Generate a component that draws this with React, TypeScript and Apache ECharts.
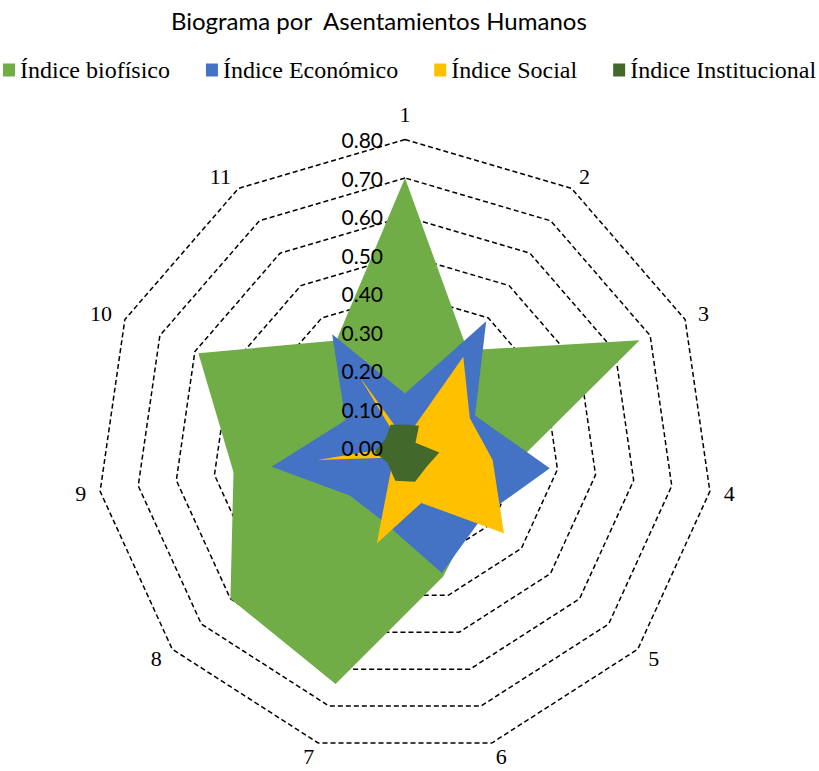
import React, { useEffect, useRef } from "react";
import * as echarts from "echarts";

const categories = ["1", "2", "3", "4", "5", "6", "7", "8", "9", "10", "11"];
const biofisico = [0.7, 0.3, 0.67, 0.29, 0.25, 0.35, 0.64, 0.6, 0.45, 0.59, 0.33];
const economico = [0.14, 0.39, 0.2, 0.38, 0.27, 0.34, 0.2, 0.19, 0.35, 0.17, 0.35];
const social = [0.02, 0.28, 0.185, 0.23, 0.34, 0.15, 0.26, 0.04, 0.23, 0.01, 0.22];
const institucional = [0.06, 0.067, 0.03, 0.09, 0.075, 0.093, 0.09, 0.06, 0.08, 0.055, 0.07];
const seriesNames = ["Índice biofísico", "Índice Económico", "Índice Social", "Índice Institucional"];
const colors = ["#70AD47", "#4472C4", "#FFC000", "#43682B"];
const axisMax = 0.8;

export default function App() {
  const ref = useRef<HTMLDivElement>(null);
  useEffect(() => {
    document.body.style.margin = "0";
    if (!ref.current) return;
    const chart = echarts.init(ref.current, undefined, { renderer: "svg" });
    // ECharts lays radar indicators counter-clockwise; reorder so they run clockwise.
    const order = [0, ...Array.from({ length: categories.length - 1 }, (_, k) => categories.length - 1 - k)];
    const baseIndicator = order.map((i) => ({ name: categories[i], min: 0, max: axisMax }));
    const labelIndicator = order.map((i, idx) => {
      const o: any = { name: categories[i], min: 0, max: axisMax };
      if (idx === 0) {
        o.axisLabel = {
          show: true,
          margin: 22,
          color: "#000",
          fontFamily: "Lato",
          fontSize: 21,
          formatter: (v: number) => v.toFixed(2),
        };
      }
      return o;
    });
    const common = {
      center: [405, 447.5],
      radius: 308,
      startAngle: 90,
      splitNumber: 8,
      shape: "polygon",
      axisNameGap: 14,
      axisLine: { show: false },
      axisTick: { show: false },
      axisLabel: { show: false },
      splitArea: { show: false },
    };
    const all = [biofisico, economico, social, institucional];
    chart.setOption({
      animation: false,
      backgroundColor: "#fff",
      title: {
        text: "Biograma por  Asentamientos Humanos",
        left: 166,
        top: 3,
        textStyle: { fontFamily: "Lato", fontSize: 24, fontWeight: "normal", color: "#000" },
      },
      legend: {
        top: 58,
        left: 3,
        width: 816,
        padding: 0,
        itemWidth: 12,
        itemHeight: 13,
        itemGap: 36,
        icon: "rect",
        textStyle: { fontFamily: "Liberation Serif", fontSize: 24, color: "#000" },
        data: seriesNames,
      },
      radar: [
        {
          ...common,
          indicator: baseIndicator,
          axisName: { color: "#000", fontFamily: "Liberation Serif", fontSize: 22 },
          splitLine: { lineStyle: { color: "#000", width: 1.5, type: [5, 3] } },
        },
        {
          ...common,
          z: 10,
          indicator: labelIndicator,
          axisName: { show: false },
          splitLine: { show: false },
        },
      ],
      series: all.map((arr, s) => ({
        type: "radar",
        radarIndex: 0,
        name: seriesNames[s],
        symbol: "none",
        itemStyle: { color: colors[s] },
        lineStyle: { width: 0 },
        areaStyle: { color: colors[s], opacity: 1 },
        data: [{ name: seriesNames[s], value: order.map((i) => arr[i]) }],
      })),
    });
    return () => chart.dispose();
  }, []);
  return <div ref={ref} style={{ width: 819, height: 771 }} />;
}
